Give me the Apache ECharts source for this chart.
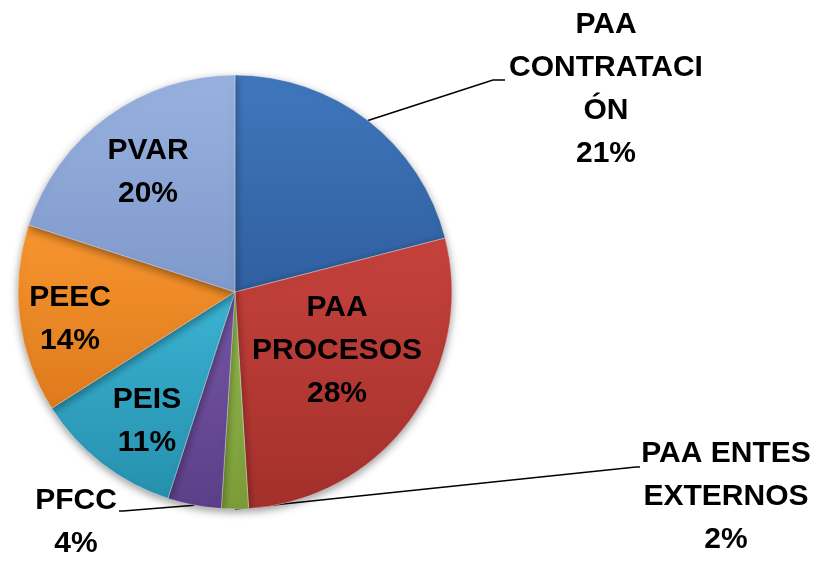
<!DOCTYPE html>
<html>
<head>
<meta charset="utf-8">
<script src="https://cdn.jsdelivr.net/npm/echarts@6/dist/echarts.min.js"></script>
<style>
  html, body { margin: 0; padding: 0; background: #fff; }
  #chart { width: 827px; height: 563px; }
</style>
</head>
<body>
<div id="chart"></div>
<script>
// datos del gráfico
var categorias = ['PAA CONTRATACIÓN', 'PAA PROCESOS', 'PAA ENTES EXTERNOS', 'PFCC', 'PEIS', 'PEEC', 'PVAR'];
var etiquetas = ['PAA\nCONTRATACI\nÓN', 'PAA\nPROCESOS', 'PAA ENTES\nEXTERNOS', 'PFCC', 'PEIS', 'PEEC', 'PVAR'];
var valores = [21, 28, 2, 4, 11, 14, 20];

// colores (claro, oscuro) de cada sector
var colores = [
  ['#4077bd', '#2f5f9f'],
  ['#c6423d', '#a3302b'],
  ['#97bb4f', '#7a9c38'],
  ['#7556a6', '#5c3f88'],
  ['#3cb3d2', '#2590ae'],
  ['#f7952f', '#de7a1c'],
  ['#98b2df', '#7e99cb']
];

// posición de cada etiqueta (centro del bloque de texto)
var posEtiquetas = [
  [606, 89], [337, 351], [726, 497], [76, 522], [147, 421], [70, 319], [148, 172]
];
// fin de la línea guía para las etiquetas externas
var finLinea = {
  0: [[493, 80], [505, 80]],
  2: [[636, 467], [640, 467]],
  3: [[123, 511], [119, 511]]
};

var myChart = echarts.init(document.getElementById('chart'));

var datos = categorias.map(function (c, i) {
  var externa = finLinea[i] !== undefined;
  return {
    name: c,
    value: valores[i],
    itemStyle: {
      color: new echarts.graphic.LinearGradient(0, 0, 0, 1, [
        { offset: 0, color: colores[i][0] },
        { offset: 1, color: colores[i][1] }
      ])
    },
    label: { position: externa ? 'outside' : 'inside' },
    labelLine: { show: externa }
  };
});

var option = {
  animation: false,
  series: [
    {
      type: 'pie',
      center: [235, 292],
      radius: [0, 217],
      startAngle: 90,
      clockwise: true,
      data: datos,
      itemStyle: {
        borderColor: 'rgba(255,255,255,0.35)',
        borderWidth: 1,
        shadowBlur: 8,
        shadowColor: 'rgba(0,0,0,0.4)',
        shadowOffsetY: 3
      },
      label: {
        formatter: function (p) {
          return etiquetas[p.dataIndex] + '\n' + p.percent + '%';
        },
        fontFamily: 'Liberation Sans, Arial, sans-serif',
        fontWeight: 'bold',
        fontSize: 30,
        lineHeight: 43,
        color: '#000',
        align: 'center'
      },
      labelLine: {
        lineStyle: { color: '#000', width: 1.5 },
        smooth: false
      },
      labelLayout: function (params) {
        var i = params.dataIndex;
        var res = {
          x: posEtiquetas[i][0],
          y: posEtiquetas[i][1],
          align: 'center',
          verticalAlign: 'middle'
        };
        if (finLinea[i] && params.labelLinePoints) {
          res.labelLinePoints = [params.labelLinePoints[0], finLinea[i][0], finLinea[i][1]];
        }
        return res;
      }
    }
  ]
};

myChart.setOption(option);

window.addEventListener('resize', function () {
  myChart.resize();
});
</script>
</body>
</html>
